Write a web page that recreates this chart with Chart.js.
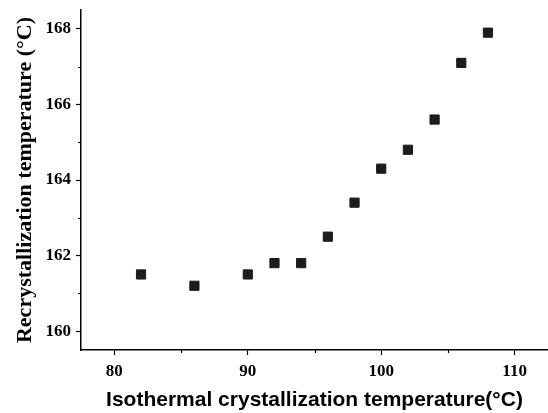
<!DOCTYPE html>
<html>
<head>
<meta charset="utf-8">
<script src="https://cdn.jsdelivr.net/npm/chart.js@4.4.0/dist/chart.umd.min.js"></script>
<style>
html,body{margin:0;padding:0;background:#fff;}
#wrap{width:548px;height:413px;position:relative;}
</style>
</head>
<body>
<div id="wrap"><canvas id="c" width="548" height="413"></canvas></div>
<script>
const xValues = [82, 86, 90, 92, 94, 96, 98, 100, 102, 104, 106, 108];
const yValues = [161.5, 161.2, 161.5, 161.8, 161.8, 162.5, 163.4, 164.3, 164.8, 165.6, 167.1, 167.9];
const xTickValues = [80, 90, 100, 110];
const yTickValues = [160, 162, 164, 166, 168];
const xMinorTicks = [85, 95, 105];
const yMinorTicks = [161, 163, 165, 167];
const xTitle = 'Isothermal crystallization temperature(°C)';
const yTitle = 'Recrystallization temperature (°C)';

const points = xValues.map((x, i) => ({x: x, y: yValues[i]}));

const minorTicks = {
  id: 'minorTicks',
  afterDraw(chart) {
    const ctx = chart.ctx;
    const xs = chart.scales.x, ys = chart.scales.y;
    const a = chart.chartArea;
    ctx.save();
    ctx.strokeStyle = '#000';
    ctx.lineWidth = 1.2;
    ctx.beginPath();
    xMinorTicks.forEach(v => {
      const px = Math.round(xs.getPixelForValue(v)) + 0.5;
      ctx.moveTo(px, a.bottom);
      ctx.lineTo(px, a.bottom + 3);
    });
    yMinorTicks.forEach(v => {
      const py = Math.round(ys.getPixelForValue(v)) + 0.5;
      ctx.moveTo(a.left - 3, py);
      ctx.lineTo(a.left, py);
    });
    ctx.stroke();
    ctx.restore();
  }
};

new Chart(document.getElementById('c'), {
  type: 'scatter',
  data: {
    datasets: [{
      data: points,
      pointStyle: 'rect',
      pointRadius: 6.5,
      pointHoverRadius: 6.5,
      backgroundColor: '#1c1c1c',
      borderColor: '#1c1c1c',
      borderWidth: 1
    }]
  },
  options: {
    responsive: false,
    animation: false,
    events: [],
    layout: {autoPadding: false, padding: {top: 10, right: 0, left: 0, bottom: 0}},
    plugins: {legend: {display: false}, tooltip: {enabled: false}},
    scales: {
      x: {
        type: 'linear',
        min: 77.5,
        max: 112.5,
        afterBuildTicks: s => { s.ticks = xTickValues.map(v => ({value: v})); },
        afterFit: s => { s.height = 63; s.paddingLeft = 0; s.paddingRight = 0; },
        grid: {drawOnChartArea: false, drawTicks: true, tickLength: 5, tickColor: '#000', tickWidth: 1.2},
        border: {display: true, color: '#000', width: 1.5},
        ticks: {
          color: '#000',
          padding: 6,
          maxRotation: 0,
          font: {family: '"Liberation Serif", "Times New Roman", serif', size: 17, weight: 'bold'}
        },
        title: {
          display: true,
          text: xTitle,
          color: '#000',
          padding: {top: 0, bottom: 0},
          font: {family: '"Liberation Sans", Arial, sans-serif', size: 21, weight: 'bold'}
        }
      },
      y: {
        type: 'linear',
        min: 159.5,
        max: 168.5,
        afterBuildTicks: s => { s.ticks = yTickValues.map(v => ({value: v})); },
        afterFit: s => { s.width = 81; s.paddingTop = 0; s.paddingBottom = 0; },
        grid: {drawOnChartArea: false, drawTicks: true, tickLength: 5, tickColor: '#000', tickWidth: 1.2},
        border: {display: true, color: '#000', width: 1.5},
        ticks: {
          color: '#000',
          padding: 5,
          font: {family: '"Liberation Serif", "Times New Roman", serif', size: 17, weight: 'bold'}
        },
        title: {
          display: true,
          text: yTitle,
          color: '#000',
          padding: {top: 12, bottom: 0},
          font: {family: '"Liberation Serif", "Times New Roman", serif', size: 22, weight: 'bold'}
        }
      }
    }
  },
  plugins: [minorTicks]
});
</script>
</body>
</html>
